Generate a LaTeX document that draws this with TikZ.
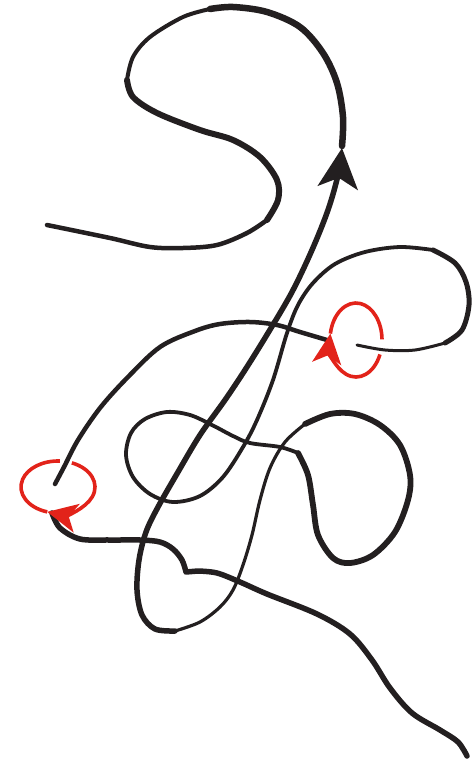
\documentclass[tikz,border=0pt]{standalone}
\usetikzlibrary{arrows.meta}
\definecolor{inkblack}{HTML}{231F20}
\definecolor{twistred}{HTML}{E2231A}
\begin{document}
\begin{tikzpicture}[x=1pt,y=-1pt,
  strand/.style={draw=inkblack,line width=#1,line cap=round,line join=round},
  strand/.default=4pt,
  twist/.style={draw=twistred,line width=3.6pt},
  bigtip/.style={-{Stealth[length=40pt,width=40pt,inset=10pt]}},
  redtip/.style={-{Stealth[length=30pt,width=29pt,inset=8pt]}}]
\useasboundingbox (0,0) rectangle (471,762);
\draw[strand=3pt] plot[smooth,tension=0.55] coordinates {(357,345) (385,350) (415,350) (445,343)};
\draw[strand=5pt] plot[smooth,tension=0.55] coordinates {(445,343) (462,330) (469,305) (466,282) (455,263) (433,250)};
\draw[strand=3.8pt] plot[smooth,tension=0.55] coordinates {(433,250) (400,247) (365,252) (335,264) (313,283) (298,305) (287,333) (273,380) (257,420) (243,447) (223,477) (200,496) (173,502) (150,494) (133,477) (126,455) (131,433) (145,419) (167,412) (190,415) (212,425) (233,436) (250,443) (280,447) (298,453)};
\draw[strand=5.8pt] plot[smooth,tension=0.55] coordinates {(298,453) (308,475) (313,505) (318,535) (333,558) (350,563) (373,555) (395,532) (408,500) (410,475) (400,445) (380,425) (355,414) (330,414) (305,424)};
\draw[strand=3.2pt] plot[smooth,tension=0.55] coordinates {(305,424) (285,442) (270,468) (260,500) (252,535) (243,565) (233,590) (220,607) (200,622) (175,631)};
\draw[strand=5.5pt,bigtip] plot[smooth,tension=0.55] coordinates {(175,631) (155,629) (142,615) (137,590) (139,560) (146,532) (158,507) (178,472) (200,435) (225,400) (245,370) (268,333) (292,292) (312,250) (328,210) (338,175) (342,148)};
\draw[strand=6.5pt] plot[smooth,tension=0.55] coordinates {(342,146) (343,117) (337,83) (323,53) (300,27) (267,12) (233,7) (210,9)};
\draw[strand=4pt] plot[smooth,tension=0.55] coordinates {(210,9) (183,17) (150,37) (133,57) (127,80)};
\draw[strand=6pt] plot[smooth,tension=0.55] coordinates {(127,80) (133,97) (157,113) (200,130) (233,140) (260,157) (277,180) (278,200) (267,220)};
\draw[strand=4.5pt] plot[smooth,tension=0.55] coordinates {(267,220) (247,233) (217,245) (183,248) (150,247) (110,238) (47,225)};
\draw[strand=4.5pt] plot[smooth,tension=0.55] coordinates {(327,340) (300,332) (277,325) (250,322) (220,324) (195,331) (160,347) (127,378) (100,408) (78,440) (64,467) (55,484)};
\draw[strand=5.5pt] plot[smooth,tension=0.55] coordinates {(52,513) (60,528) (80,539) (110,540) (140,540) (160,542) (173,549) (182,560) (186,572)}
  -- plot[smooth,tension=0.55] coordinates {(198,571) (217,573) (240,582) (267,594) (317,614) (350,634) (372,660) (390,688) (412,713) (440,730) (458,742) (467,756)};
\draw[twist,redtip] ([shift={(292:37 and 26)}]58,487) arc[start angle=292,end angle=467,x radius=37,y radius=26];
\draw[twist] ([shift={(467:37 and 26)}]58,487) arc[start angle=467,end angle=633,x radius=37,y radius=26];
\draw[twist,redtip] ([shift={(23:26 and 37)}]356,340) arc[start angle=23,end angle=190,x radius=26,y radius=37];
\draw[twist] ([shift={(190:26 and 37)}]356,340) arc[start angle=190,end angle=359,x radius=26,y radius=37];
\end{tikzpicture}
\end{document}
